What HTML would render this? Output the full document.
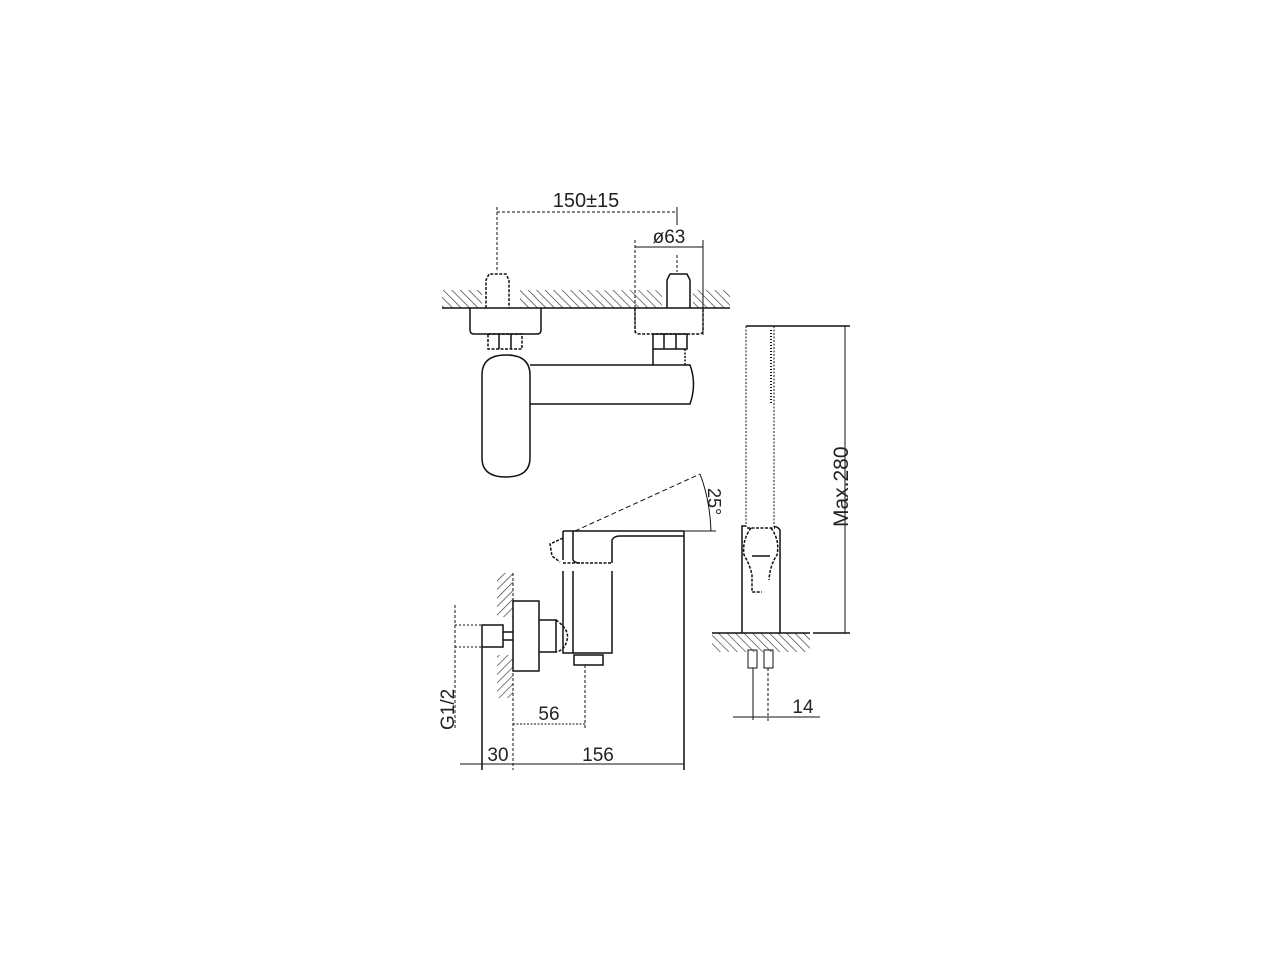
<!DOCTYPE html>
<html><head><meta charset="utf-8"><style>html,body{margin:0;padding:0;background:#fff}svg{display:block}</style></head>
<body>
<svg width="1280" height="960" viewBox="0 0 1280 960" xmlns="http://www.w3.org/2000/svg">
<defs>
<pattern id="h" width="6" height="6" patternUnits="userSpaceOnUse" patternTransform="rotate(-45)">
<line x1="0" y1="0" x2="0" y2="6" stroke="#333" stroke-width="1.3"/>
</pattern>
<pattern id="h2" width="6" height="6" patternUnits="userSpaceOnUse" patternTransform="rotate(45)">
<line x1="0" y1="0" x2="0" y2="6" stroke="#333" stroke-width="1.3"/>
</pattern>
</defs>
<rect width="1280" height="960" fill="#fff"/>
<g fill="none" stroke="#111" stroke-width="1.5" font-family="Liberation Sans, sans-serif">
<!-- TOP VIEW -->
<rect x="442" y="290" width="40" height="18" fill="url(#h)" stroke="none"/>
<rect x="520" y="290" width="142" height="18" fill="url(#h)" stroke="none"/>
<rect x="693" y="290" width="37" height="18" fill="url(#h)" stroke="none"/>
<line x1="442" y1="308" x2="730" y2="308"/>
<path d="M486 308 V280 l3 -6 h17 l3 6 V308" stroke-dasharray="3 1.5"/>
<path d="M667 308 V280 l3 -6 h17 l3 6 V308"/>
<path d="M470 308 V330 q0 4 4 4 H537 q4 0 4 -4 V308"/>
<path d="M635 308 V330 q0 4 4 4 H699 q4 0 4 -4 V308" stroke-dasharray="3 1.5"/>
<rect x="488" y="334" width="34" height="15" stroke-dasharray="3 1.5"/>
<line x1="499" y1="334" x2="499" y2="349"/><line x1="511" y1="334" x2="511" y2="349"/>
<rect x="653" y="334" width="34" height="15"/>
<line x1="664" y1="334" x2="664" y2="349"/><line x1="676" y1="334" x2="676" y2="349"/>
<path d="M482 375 Q482 355 506 355 Q530 355 530 375 V458 Q530 477 506 477 Q482 477 482 458 Z"/>
<path d="M530 365 H690 Q697 384 690 404 H530"/>
<line x1="653" y1="349" x2="653" y2="365"/>
<line x1="685" y1="349" x2="685" y2="365" stroke-dasharray="2 1.5"/>
<!-- dims top -->
<line x1="497" y1="212" x2="677" y2="212" stroke-width="1" stroke-dasharray="3 2"/>
<line x1="497" y1="207" x2="497" y2="272" stroke-width="1" stroke-dasharray="3 2"/>
<line x1="677" y1="207" x2="677" y2="225" stroke-width="1"/>
<line x1="677" y1="255" x2="677" y2="272" stroke-width="1" stroke-dasharray="3 2"/>
<line x1="635" y1="247" x2="703" y2="247" stroke-width="1"/>
<line x1="635" y1="240" x2="635" y2="335" stroke-width="1" stroke-dasharray="3 2"/>
<line x1="703" y1="240" x2="703" y2="335" stroke-width="1"/>
<text x="586" y="207" font-size="20" fill="#222" stroke="none" text-anchor="middle">150±15</text>
<text x="669" y="243" font-size="19" fill="#222" stroke="none" text-anchor="middle">ø63</text>
<!-- SIDE VIEW -->
<rect x="497" y="573" width="16" height="44" fill="url(#h2)" stroke="none"/>
<rect x="497" y="655" width="16" height="43" fill="url(#h2)" stroke="none"/>
<line x1="513" y1="573" x2="513" y2="770" stroke-dasharray="3 2" stroke-width="1"/>
<rect x="513" y="601" width="26" height="70"/>
<rect x="482" y="625" width="21" height="22"/>
<line x1="503" y1="632" x2="513" y2="632"/><line x1="503" y1="640" x2="513" y2="640"/>
<path d="M539 620 H556 V652 H539"/>
<path d="M556 620 Q570 630 567 640 Q565 650 556 652" stroke-dasharray="3 1.5"/>
<path d="M563 571 V653 H612 V571"/>
<line x1="573" y1="571" x2="573" y2="653"/>
<line x1="563" y1="563" x2="612" y2="563" stroke-dasharray="3 1.5"/>
<path d="M563 531 H684 M563 531 V560 M573 531 V560 Q575 563 580 563 M612 563 V540 Q614 536 620 536 H684"/>
<path d="M563 538 L550 544 L552 556 L560 562" stroke-dasharray="3 1.5"/>
<rect x="574" y="655" width="29" height="10"/>
<line x1="684" y1="531" x2="684" y2="770"/>
<line x1="684" y1="531" x2="716" y2="531" stroke-width="1"/>
<line x1="575" y1="531" x2="700" y2="474" stroke-width="1" stroke-dasharray="5 3"/>
<path d="M700 474 Q710 500 711 531" stroke-width="1"/>
<text x="0" y="0" font-size="18" fill="#222" stroke="none" transform="translate(708,488) rotate(90)">25°</text>
<line x1="455" y1="605" x2="455" y2="728" stroke-width="1" stroke-dasharray="3 2"/>
<line x1="455" y1="625" x2="482" y2="625" stroke-width="1" stroke-dasharray="2 2"/>
<line x1="455" y1="647" x2="482" y2="647" stroke-width="1" stroke-dasharray="2 2"/>
<text x="0" y="0" font-size="19" fill="#222" stroke="none" transform="translate(454,730) rotate(-90)">G1/2</text>
<line x1="513" y1="724" x2="585" y2="724" stroke-width="1" stroke-dasharray="2 1.5"/>
<line x1="585" y1="665" x2="585" y2="728" stroke-width="1" stroke-dasharray="3 2"/>
<text x="549" y="720" font-size="19" fill="#222" stroke="none" text-anchor="middle">56</text>
<line x1="460" y1="764" x2="684" y2="764" stroke-width="1"/>
<line x1="482" y1="647" x2="482" y2="770"/>
<text x="498" y="761" font-size="19" fill="#222" stroke="none" text-anchor="middle">30</text>
<text x="598" y="761" font-size="19" fill="#222" stroke="none" text-anchor="middle">156</text>
<!-- RIGHT VIEW -->
<line x1="746" y1="326" x2="850" y2="326"/>
<line x1="746" y1="326" x2="746" y2="527" stroke-width="1" stroke-dasharray="2 1.5"/>
<line x1="774" y1="326" x2="774" y2="527" stroke-width="1" stroke-dasharray="2 1.5"/>
<line x1="771" y1="330" x2="771" y2="405" stroke-width="2" stroke-dasharray="1 2"/>
<path d="M742 633 V526 H746 M780 633 V530 Q777 526 774 527"/>
<line x1="780" y1="540" x2="780" y2="633" stroke-width="1" stroke-dasharray="2 1.5"/>
<path d="M747 528 H775 M751 528 Q742 540 744 555 Q750 565 752 575 V592 H762 M771 528 Q780 540 777 555 Q770 565 769 580" stroke-dasharray="3 1.5"/>
<line x1="752" y1="556" x2="770" y2="556"/>
<rect x="712" y="633" width="98" height="19" fill="url(#h)" stroke="none"/>
<line x1="712" y1="633" x2="810" y2="633"/>
<line x1="813" y1="633" x2="850" y2="633"/>
<line x1="845" y1="326" x2="845" y2="633" stroke-width="1"/>
<text x="0" y="0" font-size="21" fill="#222" stroke="none" transform="translate(848,527) rotate(-90)">Max.280</text>
<rect x="748" y="650" width="9" height="18" stroke-width="1"/>
<rect x="764" y="650" width="9" height="18" stroke-width="1"/>
<line x1="753" y1="668" x2="753" y2="720" stroke-width="1"/>
<line x1="768" y1="668" x2="768" y2="722" stroke-width="1" stroke-dasharray="3 2"/>
<line x1="733" y1="717" x2="820" y2="717" stroke-width="1"/>
<text x="803" y="713" font-size="19" fill="#222" stroke="none" text-anchor="middle">14</text>
</g>
</svg>
</body></html>
